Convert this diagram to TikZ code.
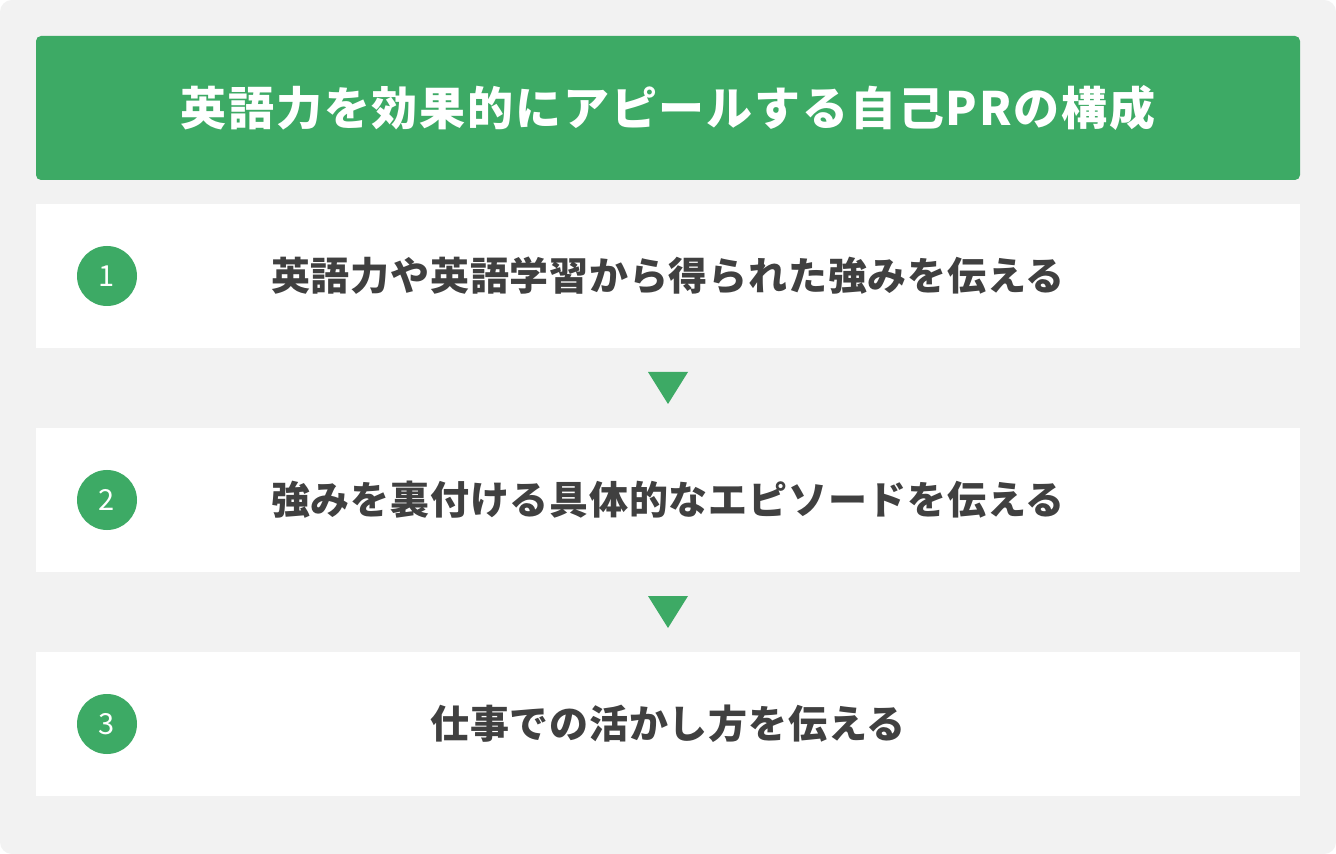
\documentclass[tikz,border=0pt]{standalone}
\usepackage{fontspec}
\usepackage{tikz}
\newfontfamily\jpfont{Noto Sans CJK JP}
\newfontfamily\jptitle{Noto Sans CJK JP}[LetterSpace=4]
\newfontfamily\jpstep{Noto Sans CJK JP}[LetterSpace=2]
\definecolor{bg}{RGB}{242, 242, 242}
\definecolor{gr}{RGB}{61, 170, 101}
\definecolor{tx}{RGB}{64, 64, 64}
\usetikzlibrary{positioning}

\begin{document}
\begin{tikzpicture}
[every node/.style={inner sep=0pt}]
\fill [white] (0pt, 0pt) rectangle (668pt, -427pt);
\fill [bg, rounded corners=6pt] (0pt, 0pt) rectangle (668pt, -427pt);
\useasboundingbox (0pt, 0pt) rectangle (668pt, -427pt);
\node (title) [rectangle, rounded corners=2.5pt, minimum width=632pt, minimum height=72pt, fill=gr, text=white, font=\jptitle\bfseries\fontsize{23pt}{27pt}\selectfont] at (334pt, -54pt) {英語力を効果的にアピールする自己PRの構成};
\node (step1) [rectangle, minimum width=632pt, minimum height=72pt, fill=white, text=tx, font=\jpstep\bfseries\fontsize{19.5pt}{23pt}\selectfont] at (334pt, -138pt) {英語力や英語学習から得られた強みを伝える};
\node (step2) [rectangle, minimum width=632pt, minimum height=72pt, fill=white, text=tx, font=\jpstep\bfseries\fontsize{19.5pt}{23pt}\selectfont] at (334pt, -250pt) {強みを裏付ける具体的なエピソードを伝える};
\node (step3) [rectangle, minimum width=632pt, minimum height=72pt, fill=white, text=tx, font=\jpstep\bfseries\fontsize{19.5pt}{23pt}\selectfont] at (334pt, -362pt) {仕事での活かし方を伝える};
\node (num1) [circle, minimum size=30pt, fill=gr, text=white, font=\jpfont\fontsize{14.5pt}{16pt}\selectfont] at (53.5pt, -138pt) {1};
\node (num2) [circle, minimum size=30pt, fill=gr, text=white, font=\jpfont\fontsize{14.5pt}{16pt}\selectfont] at (53.5pt, -250pt) {2};
\node (num3) [circle, minimum size=30pt, fill=gr, text=white, font=\jpfont\fontsize{14.5pt}{16pt}\selectfont] at (53.5pt, -362pt) {3};
\coordinate (arr1) at (334pt, -194pt);
\coordinate (arr2) at (334pt, -306pt);
\fill [gr] (arr1) ++(-10pt, 8pt) -- ++(20pt, 0pt) -- ++(-10pt, -16pt) -- cycle;
\fill [gr] (arr2) ++(-10pt, 8pt) -- ++(20pt, 0pt) -- ++(-10pt, -16pt) -- cycle;
\end{tikzpicture}
\end{document}
